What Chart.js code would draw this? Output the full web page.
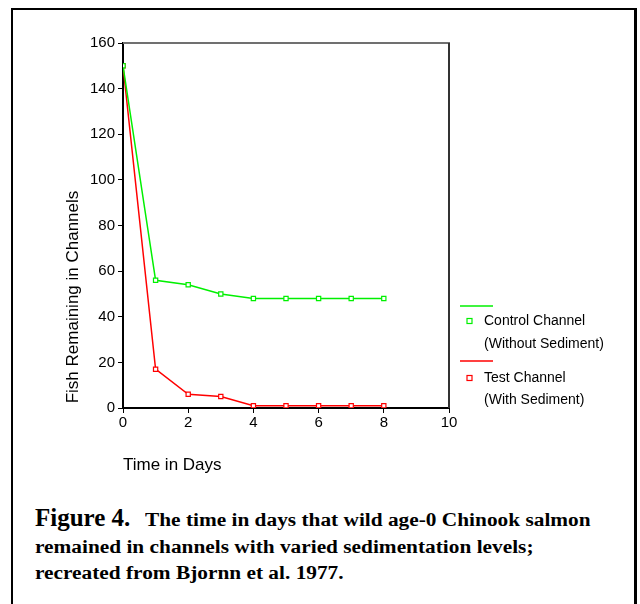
<!DOCTYPE html>
<html>
<head>
<meta charset="utf-8">
<script src="https://cdn.jsdelivr.net/npm/chart.js@4/dist/chart.umd.min.js"></script>
<style>
  html, body { margin: 0; padding: 0; background: #fff; width: 640px; height: 604px; overflow: hidden; }
  #frame { position: absolute; left: 11px; top: 8px; width: 626px; height: 620px; border: 2px solid #000; border-right-width: 3px; box-sizing: border-box; }
  #wrap { position: absolute; left: 0; top: 0; width: 640px; height: 490px; }
  .cap { position: absolute; white-space: nowrap; font-family: "Liberation Serif", "Times New Roman", serif; font-weight: bold; color: #000; line-height: 1; }
  .cap.big { font-size: 25px; }
  .cap.txt { font-size: 18px; transform: scaleX(1.185); transform-origin: 0 0; }
</style>
</head>
<body>
<div id="frame"></div>
<div id="wrap"><canvas id="c" width="640" height="490" style="width:640px;height:490px"></canvas></div>
<div class="cap big" style="left:35px; top:505px;">Figure 4.</div>
<div class="cap txt" style="left:145px; top:511px;">The time in days that wild age-0 Chinook salmon</div>
<div class="cap txt" style="left:35px; top:538px;">remained in channels with varied sedimentation levels;</div>
<div class="cap txt" style="left:35px; top:564px;">recreated from Bjornn et al. 1977.</div>
<script>
const days = [0, 1, 2, 3, 4, 5, 6, 7, 8];
const controlChannel = [150, 56, 54, 50, 48, 48, 48, 48, 48];
const testChannel = [150, 17, 6, 5, 1, 1, 1, 1, 1];
const seriesNames = ["Control Channel", "Test Channel"];
const seriesNotes = ["(Without Sediment)", "(With Sediment)"];
const xTitle = "Time in Days";
const yTitle = "Fish Remaining in Channels";

const GREEN = "#00f000";
const RED = "#ff0000";
const FONT = "'Liberation Sans', Arial, sans-serif";

const toPts = (arr) => days.map((d, i) => ({ x: d, y: arr[i] }));

const decor = {
  id: 'decor',
  afterDraw(chart) {
    const ctx = chart.ctx;
    const a = chart.chartArea;
    ctx.save();
    ctx.lineWidth = 2;
    ctx.strokeStyle = '#707070';
    ctx.beginPath(); ctx.moveTo(a.left, a.top); ctx.lineTo(a.right + 1, a.top); ctx.stroke();
    ctx.strokeStyle = '#333333';
    ctx.beginPath(); ctx.moveTo(a.right, a.top); ctx.lineTo(a.right, a.bottom); ctx.stroke();
    ctx.fillStyle = '#000';
    ctx.font = '17px ' + FONT;
    ctx.textBaseline = 'middle';
    ctx.textAlign = 'left';
    ctx.fillText(xTitle, a.left, 465);
    ctx.translate(73, 297);
    ctx.rotate(-Math.PI / 2);
    ctx.textAlign = 'center';
    ctx.fillText(yTitle, 0, 0);
    ctx.restore();
    ctx.save();
    const ds = chart.data.datasets;
    const rows = [{ line: 306, mark: 321, note: 344 }, { line: 361, mark: 378, note: 400 }];
    ds.forEach((d, i) => {
      const r = rows[i];
      ctx.strokeStyle = d.borderColor;
      ctx.lineWidth = 1.5;
      ctx.beginPath(); ctx.moveTo(460, r.line); ctx.lineTo(493, r.line); ctx.stroke();
      ctx.lineWidth = 1.2;
      ctx.fillStyle = '#fff';
      ctx.fillRect(467, r.mark - 2.5, 5, 5);
      ctx.strokeRect(467, r.mark - 2.5, 5, 5);
      ctx.fillStyle = '#000';
      ctx.font = '14px ' + FONT;
      ctx.textAlign = 'left';
      ctx.textBaseline = 'middle';
      ctx.fillText(seriesNames[i], 484, r.mark);
      ctx.fillText(seriesNotes[i], 484, r.note);
    });
    ctx.restore();
  }
};

new Chart(document.getElementById('c'), {
  type: 'line',
  data: {
    datasets: [
      { label: seriesNames[0], data: toPts(controlChannel), borderColor: GREEN, backgroundColor: '#fff',
        borderWidth: 1.5, pointStyle: 'rect', pointRadius: 3, pointBorderWidth: 1.2, pointBackgroundColor: '#fff', pointBorderColor: GREEN, tension: 0 },
      { label: seriesNames[1], data: toPts(testChannel), borderColor: RED, backgroundColor: '#fff',
        borderWidth: 1.5, pointStyle: 'rect', pointRadius: 3, pointBorderWidth: 1.2, pointBackgroundColor: '#fff', pointBorderColor: RED, tension: 0 }
    ]
  },
  options: {
    responsive: false,
    animation: false,
    devicePixelRatio: 1,
    layout: { padding: { top: 43, left: 0, right: 191, bottom: 52 } },
    plugins: { legend: { display: false }, tooltip: { enabled: false } },
    scales: {
      x: {
        type: 'linear', min: 0, max: 10,
        afterFit(s) { s.height = 30; },
        ticks: { stepSize: 2, color: '#000', font: { family: FONT, size: 15 }, padding: 1, maxRotation: 0 },
        grid: { drawOnChartArea: false, drawTicks: true, tickLength: 5, color: '#000', lineWidth: 1 },
        border: { display: true, color: '#000', width: 2 }
      },
      y: {
        min: 0, max: 160,
        afterFit(s) { s.width = 123; },
        ticks: { stepSize: 20, color: '#000', font: { family: FONT, size: 15 }, padding: 3 },
        grid: { drawOnChartArea: false, drawTicks: true, tickLength: 5, color: '#000', lineWidth: 1 },
        border: { display: true, color: '#000', width: 2 }
      }
    }
  },
  plugins: [decor]
});
</script>
</body>
</html>
